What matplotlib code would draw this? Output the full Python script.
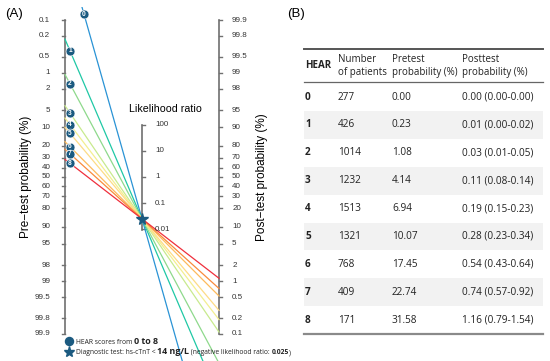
import numpy as np
import matplotlib.pyplot as plt
from matplotlib.patches import Rectangle

# table / nomogram data
hear = [0, 1, 2, 3, 4, 5, 6, 7, 8]
n_patients = [277, 426, 1014, 1232, 1513, 1321, 768, 409, 171]
pretest = [0.00, 0.23, 1.08, 4.14, 6.94, 10.07, 17.45, 22.74, 31.58]
posttest = ['0.00 (0.00-0.00)', '0.01 (0.00-0.02)', '0.03 (0.01-0.05)',
            '0.11 (0.08-0.14)', '0.19 (0.15-0.23)', '0.28 (0.23-0.34)',
            '0.54 (0.43-0.64)', '0.74 (0.57-0.92)', '1.16 (0.79-1.54)']
# pretest used for drawing (HEAR 0 is 0.00 % in the table, drawn from ~0.004 %)
pretest_plot = [0.004, 0.23, 1.08, 4.14, 6.94, 10.07, 17.45, 22.74, 31.58]
neg_lr = 0.025

pre_ticks = [0.1, 0.2, 0.5, 1, 2, 5, 10, 20, 30, 40, 50, 60, 70, 80, 90,
             95, 98, 99, 99.5, 99.8, 99.9]
lr_ticks = [100, 10, 1, 0.1, 0.01]

line_colors = ['#2a93d5', '#1fc8a5', '#8ed98c', '#c8ea8e', '#f3ef90',
               '#fddc86', '#fdbb5c', '#f98b3c', '#ef2f3c']
dot_color = '#1b5a80'
axis_gray = '#707070'


def logit(p):
    p = np.asarray(p, dtype=float) / 100.0
    return np.log(p / (1 - p))


plt.rcParams['font.family'] = ['Liberation Sans', 'DejaVu Sans']
fig = plt.figure(figsize=(5.5, 3.61), dpi=100)

# ---------------- panel A: Fagan nomogram ----------------
ax = fig.add_axes([0, 0, 0.5, 354 / 361])
ax.set_xlim(-0.844, 2.727)
ax.set_ylim(-8.106, 7.489)
ax.axis('off')

tk = 0.04
# left axis (pre-test, inverted)
yl = -logit(pre_ticks)
ax.plot([0, 0], [yl.min(), yl.max()], color=axis_gray, lw=1.2, clip_on=False)
for v, y in zip(pre_ticks, yl):
    ax.plot([-tk, 0], [y, y], color=axis_gray, lw=1.0, clip_on=False)
    ax.text(-0.19, y, '%g' % v, ha='right', va='center', fontsize=5.8, color='#333333')

# right axis (post-test)
post_ticks = pre_ticks[::-1]
yr = logit(post_ticks)
ax.plot([2, 2], [yr.min(), yr.max()], color=axis_gray, lw=1.2, clip_on=False)
for v, y in zip(post_ticks, yr):
    ax.plot([2, 2 + tk], [y, y], color=axis_gray, lw=1.0, clip_on=False)
    ax.text(2.17, y, '%g' % v, ha='left', va='center', fontsize=5.8, color='#333333')

# middle axis (likelihood ratio)
ym = np.log(lr_ticks) / 2
ax.plot([1, 1], [ym.min() - 0.02, ym.max()], color=axis_gray, lw=1.2)
for v, y in zip(lr_ticks, ym):
    ax.plot([1, 1 + tk], [y, y], color=axis_gray, lw=1.0)
    ax.text(1.17, y, '%g' % v, ha='left', va='center', fontsize=5.8, color='#333333')
ax.text(1.30, 3.0, 'Likelihood ratio', ha='center', va='center', fontsize=7.7)

# lines through the likelihood ratio point
y_star = np.log(neg_lr) / 2
for i, p in enumerate(pretest_plot):
    y0 = -logit(p)
    y2 = logit(p) + np.log(neg_lr)
    ax.plot([0, 2], [y0, y2], color=line_colors[i], lw=0.9, zorder=2)

for i, p in enumerate(pretest_plot):
    y0 = -logit(p)
    y2 = logit(p) + np.log(neg_lr)
    mx = 0.247 if i == 0 else 0.065
    my = y0 + (y2 - y0) * mx / 2
    ax.plot(mx, my, 'o', ms=6.4, color=dot_color, mec='white', mew=0.4, zorder=4)
    ax.text(mx, my, str(hear[i]), ha='center', va='center', fontsize=4.8,
            color='white', fontweight='bold', zorder=5)

ax.plot(1, y_star, '*', ms=8.5, color=dot_color, zorder=5)

ax.text(-0.51, 0.0, 'Pre\u2212test probability (%)', rotation=90,
        ha='center', va='center', fontsize=8.5, clip_on=False)
ax.text(2.56, 0.0, 'Post\u2212test probability (%)', rotation=90,
        ha='center', va='center', fontsize=8.5, clip_on=False)

W, H = 550.0, 361.0


def fx(px):
    return px / W


def fy(py):
    return 1 - py / H


fig.text(fx(5), fy(14), '(A)', ha='left', va='center', fontsize=9.5)
fig.text(fx(287), fy(14), '(B)', ha='left', va='center', fontsize=9.5)

# legend lines built from text pieces
leg_font = ['Open Sans', 'DejaVu Sans']
fig.canvas.draw()
rend = fig.canvas.get_renderer()


def chain(x, y, parts):
    for s, kw in parts:
        t = fig.text(x, y, s, va='baseline', family=leg_font, color='#222222', **kw)
        bb = t.get_window_extent(renderer=rend)
        x = bb.x1 / fig.bbox.width


fig.add_artist(plt.Line2D([fx(69)], [fy(341)], marker='o', ms=5.8, color=dot_color,
                          transform=fig.transFigure))
fig.add_artist(plt.Line2D([fx(69)], [fy(352)], marker='*', ms=8, color=dot_color,
                          transform=fig.transFigure))
chain(fx(76), fy(343.5), [('HEAR scores from ', dict(fontsize=4.9)),
                          ('0 to 8', dict(fontsize=6.4, fontweight='bold'))])
chain(fx(76), fy(354.5), [('Diagnostic test: hs-cTnT < ', dict(fontsize=4.9)),
                          ('14 ng/L', dict(fontsize=6.4, fontweight='bold')),
                          (' (negative likelihood ratio: ', dict(fontsize=4.9)),
                          ('0.025', dict(fontsize=4.9, fontweight='bold')),
                          (')', dict(fontsize=4.9))])

# ---------------- panel B: table ----------------
tab_font = ['Open Sans', 'DejaVu Sans']
x0, x1 = 304, 543
col_x = [305, 338, 392, 462]
row_y = [97 + 27.9 * i for i in range(len(hear))]
band = 13.95

for i, y in enumerate(row_y):
    if i % 2 == 1:
        fig.add_artist(Rectangle((fx(x0), fy(y + band)), fx(x1) - fx(x0),
                                 fy(y - band) - fy(y + band),
                                 transform=fig.transFigure, color='#f2f2f2', lw=0, zorder=0))

fig.add_artist(plt.Line2D([fx(x0), fx(x1)], [fy(49), fy(49)], color='#555555', lw=1.4,
                          transform=fig.transFigure))
fig.add_artist(plt.Line2D([fx(x0), fx(x1)], [fy(81.5), fy(81.5)], color='#666666', lw=0.9,
                          transform=fig.transFigure))
fig.add_artist(plt.Line2D([fx(x0), fx(x1)], [fy(334), fy(334)], color='#8a8a8a', lw=1.6,
                          transform=fig.transFigure))

hdr = dict(fontsize=7.0, family=tab_font, color='#222222', va='center', ha='left')
fig.text(fx(col_x[0]), fy(66), 'HEAR', fontweight='bold', **hdr)
fig.text(fx(col_x[1]), fy(59), 'Number', **hdr)
fig.text(fx(col_x[1]), fy(72), 'of patients', **hdr)
fig.text(fx(col_x[2]), fy(59), 'Pretest', **hdr)
fig.text(fx(col_x[2]), fy(72), 'probability (%)', **hdr)
fig.text(fx(col_x[3]), fy(59), 'Posttest', **hdr)
fig.text(fx(col_x[3]), fy(72), 'probability (%)', **hdr)

cell = dict(fontsize=7.2, family=tab_font, color='#222222', va='center', ha='left')
for i, y in enumerate(row_y):
    fig.text(fx(col_x[0]), fy(y), str(hear[i]), fontweight='bold', **cell)
    fig.text(fx(col_x[1]), fy(y), str(n_patients[i]), **cell)
    fig.text(fx(col_x[2]), fy(y), '%.2f' % pretest[i], **cell)
    fig.text(fx(col_x[3]), fy(y), posttest[i], **cell)

fig.savefig('out.png', dpi=100)
